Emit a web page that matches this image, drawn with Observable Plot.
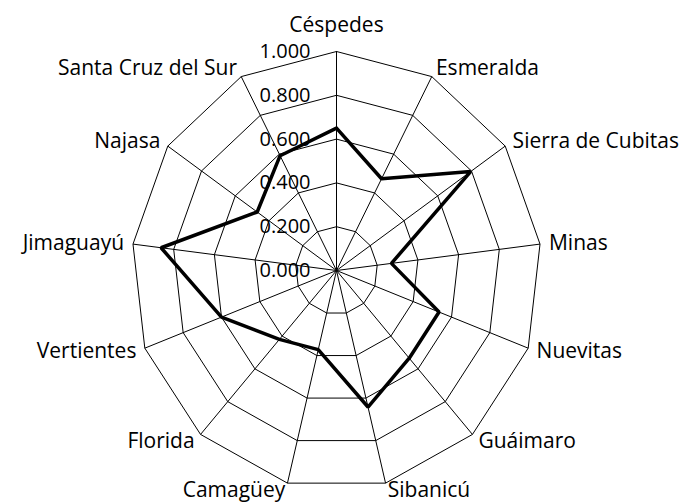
<!DOCTYPE html>
<html>
<head>
<meta charset="utf-8">
<script src="https://cdn.jsdelivr.net/npm/d3@7"></script>
<script src="https://cdn.jsdelivr.net/npm/@observablehq/plot@0.6"></script>
<style>
  html, body { margin: 0; padding: 0; background: #fff; }
  svg { display: block; }
</style>
</head>
<body>
<div id="chart"></div>
<script>
const categories = ["Céspedes", "Esmeralda", "Sierra de Cubitas", "Minas", "Nuevitas", "Guáimaro", "Sibanicú", "Camagüey", "Florida", "Vertientes", "Jimaguayú", "Najasa", "Santa Cruz del Sur"];
const values = [0.65, 0.473, 0.795, 0.27, 0.535, 0.535, 0.642, 0.372, 0.42, 0.60, 0.862, 0.47, 0.592];
const ticks = [0, 0.2, 0.4, 0.6, 0.8, 1.0];
const tickLabels = ["0.000", "0.200", "0.400", "0.600", "0.800", "1.000"];

const n = categories.length;
const RX = 205, RY = 219; // pixels per unit radius (horizontal, vertical)
const ang = i => i * 2 * Math.PI / n;
const px = (r, i) => r * Math.sin(ang(i));
const py = (r, i) => r * Math.cos(ang(i));

// grid rings (closed polygons)
const rings = [];
ticks.filter(t => t > 0).forEach(t => {
  for (let i = 0; i <= n; i++) rings.push({t, x: px(t, i % n), y: py(t, i % n)});
});
// spokes
const spokes = categories.map((c, i) => ({x1: 0, y1: 0, x2: px(1, i), y2: py(1, i)}));
// data polygon
const series = [];
for (let i = 0; i <= n; i++) series.push({x: px(values[i % n], i % n), y: py(values[i % n], i % n)});

// label positions
const labels = categories.map((c, i) => {
  const s = Math.sin(ang(i)), co = Math.cos(ang(i));
  let anchor = s > 0.1 ? "start" : s < -0.1 ? "end" : "middle";
  let dxp = 9 * s, dyp = -9 * co;
  if (co < -0.9) dyp = 7;
  if (anchor === "middle") dyp = -26;
  return {c, anchor, x: px(1, i) + dxp / RX, y: py(1, i) - dyp / RY};
});

const font = {fontFamily: "'Open Sans', sans-serif", fontSize: 21, fill: "#000"};

const chart = Plot.plot({
  width: 689,
  height: 502,
  margin: 0,
  x: {domain: [-1, 1], range: [336 - RX, 336 + RX], axis: null},
  y: {domain: [-1, 1], range: [270 + RY, 270 - RY], axis: null},
  style: {background: "#fff"},
  marks: [
    Plot.link(spokes, {x1: "x1", y1: "y1", x2: "x2", y2: "y2", stroke: "#000", strokeWidth: 1}),
    Plot.line(rings, {x: "x", y: "y", z: "t", stroke: "#000", strokeWidth: 1, curve: "linear"}),
    Plot.text(ticks, {x: () => 0, y: d => d, text: (d, i) => tickLabels[i], textAnchor: "end", dx: -26, ...font, fontSize: 20, letterSpacing: "1.5px"}),
    ...["start", "middle", "end"].map(a =>
      Plot.text(labels.filter(l => l.anchor === a), {x: "x", y: "y", text: "c", textAnchor: a, ...font})
    ),
    Plot.line(series, {x: "x", y: "y", stroke: "#000", strokeWidth: 3.5, strokeLinejoin: "miter", curve: "linear"})
  ]
});
document.getElementById("chart").appendChild(chart);
</script>
</body>
</html>
